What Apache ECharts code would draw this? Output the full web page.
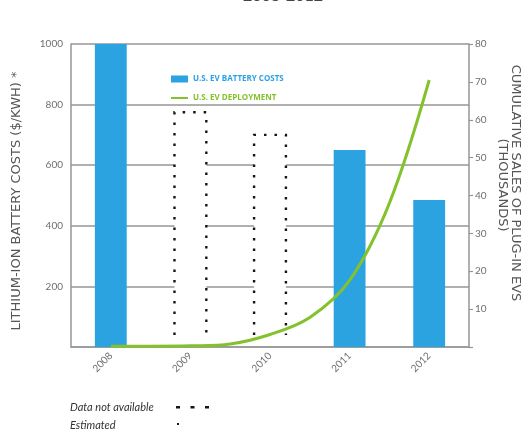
<!DOCTYPE html>
<html>
<head>
<meta charset="utf-8">
<script src="https://cdn.jsdelivr.net/npm/echarts@6/dist/echarts.min.js"></script>
<style>
  html, body { margin: 0; padding: 0; background: #fff; }
  #chart { width: 529px; height: 433px; }
</style>
</head>
<body>
<div id="chart"></div>
<script>
// Years on the category axis
var years = ['2008', '2009', '2010', '2011', '2012'];
// Lithium-ion battery costs in $/kWh (null where not available)
var batteryCosts = [1000, null, null, 650, 485];
// Estimated costs for years without published data
var estimatedCosts = [null, 775, 700, null, null];
// Cumulative plug-in EV sales (thousands), sampled every half year along the curve
var salesYears = [2008, 2008.5, 2009, 2009.5, 2010, 2010.5, 2011, 2011.5, 2012];
var salesValues = [0.2, 0.2, 0.3, 0.8, 3.3, 7.8, 17.6, 38, 70.5];
// Tick labels
var costTicks = [200, 400, 600, 800, 1000];
var salesTicks = [10, 20, 30, 40, 50, 60, 70, 80];

var BLUE = '#2ba3e1';
var GREEN = '#83c22c';
var GRID = '#969696';
var LABEL = '#6f6f6f';
var FONT = 'Lato, "Open Sans", sans-serif';
var LEGEND_FONT = '"Open Sans", Lato, sans-serif';
var NAME_FONT = '"DejaVu Sans", "Open Sans", sans-serif';

var estimatedData = [];
estimatedCosts.forEach(function (v, i) { if (v != null) estimatedData.push([i, v]); });
var salesData = salesYears.map(function (y, i) { return [y, salesValues[i]]; });

var chart = echarts.init(document.getElementById('chart'), null, { renderer: 'canvas' });

chart.setOption({
  animation: false,
  backgroundColor: '#fff',
  textStyle: { fontFamily: FONT },
  grid: { left: 71, right: 60, top: 44, bottom: 86, containLabel: false },
  legend: {
    orient: 'vertical',
    left: 166,
    top: 70,
    itemWidth: 17,
    itemHeight: 7,
    itemGap: 11,
    selectedMode: false,
    textStyle: { fontSize: 8, fontWeight: 'bold', fontFamily: LEGEND_FONT },
    data: [
      { name: 'U.S. EV BATTERY COSTS', icon: 'rect', textStyle: { color: BLUE } },
      { name: 'U.S. EV DEPLOYMENT', icon: 'path://M0,0h17v2h-17z', textStyle: { color: GREEN } }
    ]
  },
  xAxis: [
    {
      type: 'category',
      data: years,
      boundaryGap: true,
      axisLine: { lineStyle: { color: GRID, width: 1.5 } },
      axisTick: { inside: true, length: 7, lineStyle: { color: '#555', width: 1.2 } },
      axisLabel: { rotate: 45, margin: 7, color: LABEL, fontSize: 10, fontFamily: FONT }
    },
    {
      // continuous year axis for the sales curve, aligned with the category bands
      type: 'value',
      min: 2007.5,
      max: 2012.5,
      show: false
    }
  ],
  yAxis: [
    {
      type: 'value',
      min: 0,
      max: 1000,
      interval: 200,
      axisLine: { show: true, lineStyle: { color: GRID, width: 1.5 } },
      axisTick: { show: false },
      axisLabel: {
        color: LABEL, fontSize: 10, fontFamily: FONT, margin: 8,
        formatter: function (v) { return costTicks.indexOf(v) >= 0 ? String(v) : ''; }
      },
      splitLine: { show: true, lineStyle: { color: GRID, width: 1.5 } }
    },
    {
      type: 'value',
      min: 0,
      max: 80,
      interval: 10,
      position: 'right',
      axisLine: { show: true, lineStyle: { color: GRID, width: 1.5 } },
      axisTick: { show: true, length: 4, lineStyle: { color: GRID, width: 1.2 } },
      axisLabel: {
        color: LABEL, fontSize: 10, fontFamily: FONT, margin: 6,
        formatter: function (v) { return salesTicks.indexOf(v) >= 0 ? String(v) : ''; }
      },
      splitLine: { show: false }
    }
  ],
  series: [
    {
      name: 'U.S. EV BATTERY COSTS',
      type: 'bar',
      data: batteryCosts,
      barWidth: '40%',
      itemStyle: { color: BLUE },
      z: 2
    },
    {
      name: 'Estimated',
      type: 'custom',
      data: estimatedData,
      encode: { x: 0, y: 1 },
      z: 3,
      renderItem: function (params, api) {
        var idx = api.value(0);
        var v = api.value(1);
        var top = api.coord([idx, v]);
        var base = api.coord([idx, 0]);
        var w = api.size([1, 0])[0] * 0.4;
        var x0 = top[0] - w / 2, x1 = top[0] + w / 2;
        var yEnd = base[1] - 12;
        return {
          type: 'group',
          children: [
            { type: 'rect', shape: { x: x0, y: top[1], width: w, height: base[1] - top[1] - 1 }, style: { fill: '#fff' } },
            {
              type: 'polyline',
              shape: { points: [[x0, yEnd], [x0, top[1]], [x1, top[1]], [x1, yEnd]] },
              style: { fill: null, stroke: '#151515', lineWidth: 2.4, lineDash: [2.5, 8] }
            }
          ]
        };
      }
    },
    {
      name: 'U.S. EV DEPLOYMENT',
      type: 'line',
      xAxisIndex: 1,
      yAxisIndex: 1,
      data: salesData,
      smooth: 0.35,
      showSymbol: false,
      symbol: 'none',
      lineStyle: { color: GREEN, width: 3 },
      itemStyle: { color: GREEN },
      z: 5
    }
  ],
  graphic: [
    {
      type: 'text', x: 283, y: 4,
      style: { text: '2008-2012', fill: '#444', font: 'bold 16px ' + FONT, textAlign: 'center', textVerticalAlign: 'bottom' }
    },
    {
      type: 'text', x: 17, y: 201, rotation: Math.PI / 2,
      style: { text: 'LITHIUM-ION BATTERY COSTS ($/KWH) *', fill: '#555', font: '13px ' + NAME_FONT, textAlign: 'center', textVerticalAlign: 'middle' }
    },
    {
      type: 'text', x: 515, y: 183, rotation: -Math.PI / 2,
      style: { text: 'CUMULATIVE SALES OF PLUG-IN EVS', fill: '#555', font: '13px ' + NAME_FONT, textAlign: 'center', textVerticalAlign: 'middle' }
    },
    {
      type: 'text', x: 502, y: 185, rotation: -Math.PI / 2,
      style: { text: '(THOUSANDS)', fill: '#555', font: '13px ' + NAME_FONT, textAlign: 'center', textVerticalAlign: 'middle' }
    },
    {
      type: 'text', x: 70, y: 407,
      style: { text: 'Data not available', fill: '#333', font: 'italic 11px ' + FONT, textAlign: 'left', textVerticalAlign: 'middle' }
    },
    {
      type: 'text', x: 70, y: 425,
      style: { text: 'Estimated', fill: '#333', font: 'italic 11px ' + FONT, textAlign: 'left', textVerticalAlign: 'middle' }
    },
    { type: 'rect', shape: { x: 176, y: 406, width: 4, height: 2.5 }, style: { fill: '#151515' } },
    { type: 'rect', shape: { x: 190.5, y: 406, width: 4, height: 2.5 }, style: { fill: '#151515' } },
    { type: 'rect', shape: { x: 205, y: 406, width: 4, height: 2.5 }, style: { fill: '#151515' } },
    { type: 'rect', shape: { x: 177, y: 423, width: 2, height: 2 }, style: { fill: '#151515' } }
  ]
});
</script>
</body>
</html>
